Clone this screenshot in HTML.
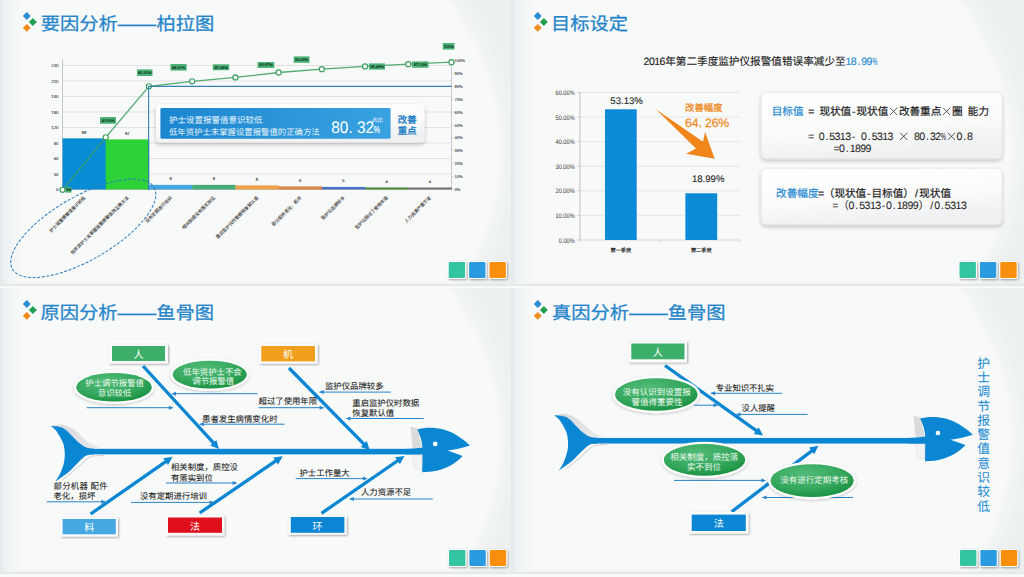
<!DOCTYPE html><html lang="zh-CN"><head><meta charset="utf-8"><style>
html,body{margin:0;padding:0;width:1024px;height:577px;overflow:hidden;background:#f8f9f9}
svg{display:block;font-family:'Liberation Sans', sans-serif;text-rendering:geometricPrecision}
</style></head><body>
<svg width="1024" height="577" viewBox="0 0 1024 577">
<defs>
<filter id="sh" x="-30%" y="-30%" width="160%" height="160%"><feGaussianBlur in="SourceAlpha" stdDeviation="1.2"/><feOffset dx="0.5" dy="1" result="b"/><feComponentTransfer><feFuncA type="linear" slope="0.35"/></feComponentTransfer><feMerge><feMergeNode/><feMergeNode in="SourceGraphic"/></feMerge></filter>
<filter id="sh2" x="-20%" y="-30%" width="140%" height="160%"><feGaussianBlur in="SourceAlpha" stdDeviation="2"/><feOffset dx="0" dy="1.5" result="b"/><feComponentTransfer><feFuncA type="linear" slope="0.25"/></feComponentTransfer><feMerge><feMergeNode/><feMergeNode in="SourceGraphic"/></feMerge></filter>
<filter id="bl8" x="-20%" y="-20%" width="140%" height="140%"><feGaussianBlur stdDeviation="6"/></filter>
<filter id="bl05" x="-50%" y="-50%" width="200%" height="200%"><feGaussianBlur stdDeviation="0.5"/></filter>
<linearGradient id="gsh" x1="0" y1="0" x2="1" y2="1"><stop offset="0" stop-color="#d6d8da"/><stop offset="1" stop-color="#e8e9ea"/></linearGradient>
<filter id="bl3" x="-20%" y="-20%" width="140%" height="140%"><feGaussianBlur stdDeviation="1.5"/></filter>
<filter id="bl1" x="-50%" y="-50%" width="200%" height="200%"><feGaussianBlur stdDeviation="0.8"/></filter>
<linearGradient id="gbox" x1="0" y1="0" x2="0.3" y2="1"><stop offset="0" stop-color="#ffffff"/><stop offset="0.6" stop-color="#fbfbfc"/><stop offset="1" stop-color="#eff0f1"/></linearGradient>
<linearGradient id="gleft" x1="0" y1="0" x2="1" y2="0"><stop offset="0" stop-color="#e9eef0" stop-opacity="0.9"/><stop offset="0.5" stop-color="#eef2f3" stop-opacity="0.5"/><stop offset="1" stop-color="#f8f9f9" stop-opacity="0"/></linearGradient>
<linearGradient id="gblue" x1="0" y1="0" x2="1" y2="0"><stop offset="0" stop-color="#1a86d0"/><stop offset="1" stop-color="#3aa2e0"/></linearGradient>
<radialGradient id="gell" cx="0.4" cy="0.3" r="0.75"><stop offset="0" stop-color="#52bb78"/><stop offset="0.6" stop-color="#35a85e"/><stop offset="1" stop-color="#16903f"/></radialGradient>
<filter id="sh3" x="-30%" y="-40%" width="160%" height="180%"><feGaussianBlur in="SourceAlpha" stdDeviation="1.8"/><feOffset dx="0" dy="0.8"/><feComponentTransfer><feFuncA type="linear" slope="0.22"/></feComponentTransfer><feMerge><feMergeNode/><feMergeNode in="SourceGraphic"/></feMerge></filter>
</defs>

<rect x="0" y="0" width="1024" height="577" fill="#f8f9f9"/>
<rect x="0" y="0" width="513" height="283.6" fill="#edf0f1"/>
<clipPath id="c0_0"><rect x="0" y="0" width="513" height="283.6"/></clipPath>
<g clip-path="url(#c0_0)">
<ellipse cx="101" cy="150" rx="410" ry="315" fill="#f3f5f5" filter="url(#bl8)"/>
<ellipse cx="101" cy="150" rx="400" ry="304" fill="#f8f9f9" filter="url(#bl3)"/>
<rect x="2" y="0" width="24" height="283.6" fill="url(#gleft)"/>
</g>
<rect x="511" y="0" width="513" height="283.6" fill="#edf0f1"/>
<clipPath id="c511_0"><rect x="511" y="0" width="513" height="283.6"/></clipPath>
<g clip-path="url(#c511_0)">
<ellipse cx="612" cy="150" rx="410" ry="315" fill="#f3f5f5" filter="url(#bl8)"/>
<ellipse cx="612" cy="150" rx="400" ry="304" fill="#f8f9f9" filter="url(#bl3)"/>
<rect x="513" y="0" width="24" height="283.6" fill="url(#gleft)"/>
</g>
<rect x="0" y="288" width="513" height="283.6" fill="#edf0f1"/>
<clipPath id="c0_288"><rect x="0" y="288" width="513" height="283.6"/></clipPath>
<g clip-path="url(#c0_288)">
<ellipse cx="101" cy="438" rx="410" ry="315" fill="#f3f5f5" filter="url(#bl8)"/>
<ellipse cx="101" cy="438" rx="400" ry="304" fill="#f8f9f9" filter="url(#bl3)"/>
<rect x="2" y="288" width="24" height="283.6" fill="url(#gleft)"/>
</g>
<rect x="511" y="288" width="513" height="283.6" fill="#edf0f1"/>
<clipPath id="c511_288"><rect x="511" y="288" width="513" height="283.6"/></clipPath>
<g clip-path="url(#c511_288)">
<ellipse cx="612" cy="438" rx="410" ry="315" fill="#f3f5f5" filter="url(#bl8)"/>
<ellipse cx="612" cy="438" rx="400" ry="304" fill="#f8f9f9" filter="url(#bl3)"/>
<rect x="513" y="288" width="24" height="283.6" fill="url(#gleft)"/>
</g>
<rect x="0" y="283.6" width="513" height="2.4" fill="#e6e9ea"/>
<rect x="0" y="0" width="2" height="286" fill="#e6e9eb"/>
<rect x="511" y="283.6" width="513" height="2.4" fill="#e6e9ea"/>
<rect x="511" y="0" width="2" height="286" fill="#e6e9eb"/>
<rect x="0" y="571.6" width="513" height="2.4" fill="#e6e9ea"/>
<rect x="0" y="288" width="2" height="286" fill="#e6e9eb"/>
<rect x="511" y="571.6" width="513" height="2.4" fill="#e6e9ea"/>
<rect x="511" y="288" width="2" height="286" fill="#e6e9eb"/>
<path d="M26.76 12.08L30.71 16.03L26.76 19.98L22.81 16.03Z" fill="#2a8dd4"/>
<path d="M32.86 18.03L36.81 21.98L32.86 25.93L28.91 21.98Z" fill="#22a050"/>
<path d="M26.76 23.88L30.71 27.83L26.76 31.78L22.81 27.83Z" fill="#f08c1e"/>
<text transform="translate(40.7 30.3) scale(1 0.93)" font-size="19.3" fill="#2585c9" stroke="#2585c9" stroke-width="0.3">要因分析——柏拉图</text>
<line x1="62.5" y1="174.00" x2="451.5" y2="174.00" stroke="#d9d9d9" stroke-width="0.7"/>
<line x1="62.5" y1="158.50" x2="451.5" y2="158.50" stroke="#d9d9d9" stroke-width="0.7"/>
<line x1="62.5" y1="143.00" x2="451.5" y2="143.00" stroke="#d9d9d9" stroke-width="0.7"/>
<line x1="62.5" y1="127.50" x2="451.5" y2="127.50" stroke="#d9d9d9" stroke-width="0.7"/>
<line x1="62.5" y1="112.00" x2="451.5" y2="112.00" stroke="#d9d9d9" stroke-width="0.7"/>
<line x1="62.5" y1="96.50" x2="451.5" y2="96.50" stroke="#d9d9d9" stroke-width="0.7"/>
<line x1="62.5" y1="81.00" x2="451.5" y2="81.00" stroke="#d9d9d9" stroke-width="0.7"/>
<line x1="62.5" y1="65.50" x2="451.5" y2="65.50" stroke="#d9d9d9" stroke-width="0.7"/>
<text x="58.5" y="191.00" font-size="4.3" fill="#333" text-anchor="end" stroke="#333" stroke-width="0.08" >0</text>
<text x="58.5" y="175.50" font-size="4.3" fill="#333" text-anchor="end" stroke="#333" stroke-width="0.08" >30</text>
<text x="58.5" y="160.00" font-size="4.3" fill="#333" text-anchor="end" stroke="#333" stroke-width="0.08" >60</text>
<text x="58.5" y="144.50" font-size="4.3" fill="#333" text-anchor="end" stroke="#333" stroke-width="0.08" >90</text>
<text x="58.5" y="129.00" font-size="4.3" fill="#333" text-anchor="end" stroke="#333" stroke-width="0.08" >120</text>
<text x="58.5" y="113.50" font-size="4.3" fill="#333" text-anchor="end" stroke="#333" stroke-width="0.08" >150</text>
<text x="58.5" y="98.00" font-size="4.3" fill="#333" text-anchor="end" stroke="#333" stroke-width="0.08" >180</text>
<text x="58.5" y="82.50" font-size="4.3" fill="#333" text-anchor="end" stroke="#333" stroke-width="0.08" >210</text>
<text x="58.5" y="67.00" font-size="4.3" fill="#333" text-anchor="end" stroke="#333" stroke-width="0.08" >240</text>
<text x="454.5" y="191.00" font-size="4.1" fill="#333" text-anchor="start" stroke="#333" stroke-width="0.08" >0%</text>
<line x1="451.5" y1="189.50" x2="453.0" y2="189.50" stroke="#999" stroke-width="0.5"/>
<text x="454.5" y="178.10" font-size="4.1" fill="#333" text-anchor="start" stroke="#333" stroke-width="0.08" >10%</text>
<line x1="451.5" y1="176.60" x2="453.0" y2="176.60" stroke="#999" stroke-width="0.5"/>
<text x="454.5" y="165.20" font-size="4.1" fill="#333" text-anchor="start" stroke="#333" stroke-width="0.08" >20%</text>
<line x1="451.5" y1="163.70" x2="453.0" y2="163.70" stroke="#999" stroke-width="0.5"/>
<text x="454.5" y="152.30" font-size="4.1" fill="#333" text-anchor="start" stroke="#333" stroke-width="0.08" >30%</text>
<line x1="451.5" y1="150.80" x2="453.0" y2="150.80" stroke="#999" stroke-width="0.5"/>
<text x="454.5" y="139.40" font-size="4.1" fill="#333" text-anchor="start" stroke="#333" stroke-width="0.08" >40%</text>
<line x1="451.5" y1="137.90" x2="453.0" y2="137.90" stroke="#999" stroke-width="0.5"/>
<text x="454.5" y="126.50" font-size="4.1" fill="#333" text-anchor="start" stroke="#333" stroke-width="0.08" >50%</text>
<line x1="451.5" y1="125.00" x2="453.0" y2="125.00" stroke="#999" stroke-width="0.5"/>
<text x="454.5" y="113.60" font-size="4.1" fill="#333" text-anchor="start" stroke="#333" stroke-width="0.08" >60%</text>
<line x1="451.5" y1="112.10" x2="453.0" y2="112.10" stroke="#999" stroke-width="0.5"/>
<text x="454.5" y="100.70" font-size="4.1" fill="#333" text-anchor="start" stroke="#333" stroke-width="0.08" >70%</text>
<line x1="451.5" y1="99.20" x2="453.0" y2="99.20" stroke="#999" stroke-width="0.5"/>
<text x="454.5" y="87.80" font-size="4.1" fill="#333" text-anchor="start" stroke="#333" stroke-width="0.08" >80%</text>
<line x1="451.5" y1="86.30" x2="453.0" y2="86.30" stroke="#999" stroke-width="0.5"/>
<text x="454.5" y="74.90" font-size="4.1" fill="#333" text-anchor="start" stroke="#333" stroke-width="0.08" >90%</text>
<line x1="451.5" y1="73.40" x2="453.0" y2="73.40" stroke="#999" stroke-width="0.5"/>
<text x="454.5" y="62.00" font-size="4.1" fill="#333" text-anchor="start" stroke="#333" stroke-width="0.08" >100%</text>
<line x1="451.5" y1="60.50" x2="453.0" y2="60.50" stroke="#999" stroke-width="0.5"/>
<line x1="62.5" y1="59" x2="62.5" y2="189.5" stroke="#b0b0b0" stroke-width="0.7"/>
<line x1="451.5" y1="62" x2="451.5" y2="189.5" stroke="#b8b8b8" stroke-width="0.7"/>
<line x1="62.5" y1="189.5" x2="451.5" y2="189.5" stroke="#aaa" stroke-width="0.7"/>
<rect x="62.50" y="138.35" width="43.52" height="51.15" fill="#088cd4"/>
<text x="84.11" y="134.15" font-size="4.1" fill="#333" text-anchor="middle" stroke="#333" stroke-width="0.12" >99</text>
<rect x="105.72" y="139.38" width="43.52" height="50.12" fill="#2cd238"/>
<text x="127.33" y="135.18" font-size="4.1" fill="#333" text-anchor="middle" stroke="#333" stroke-width="0.12" >97</text>
<rect x="148.94" y="184.85" width="43.52" height="4.65" fill="#45a5e0"/>
<text x="170.56" y="180.35" font-size="4.1" fill="#333" text-anchor="middle" stroke="#333" stroke-width="0.12" >9</text>
<rect x="192.17" y="184.85" width="43.52" height="4.65" fill="#46ad78"/>
<text x="213.78" y="180.35" font-size="4.1" fill="#333" text-anchor="middle" stroke="#333" stroke-width="0.12" >9</text>
<rect x="235.39" y="185.37" width="43.52" height="4.13" fill="#eba24c"/>
<text x="257.00" y="180.87" font-size="4.1" fill="#333" text-anchor="middle" stroke="#333" stroke-width="0.12" >8</text>
<rect x="278.61" y="186.40" width="43.52" height="3.10" fill="#dc8544"/>
<text x="300.22" y="181.90" font-size="4.1" fill="#333" text-anchor="middle" stroke="#333" stroke-width="0.12" >6</text>
<rect x="321.83" y="186.92" width="43.52" height="2.58" fill="#4a72c4"/>
<text x="343.44" y="182.42" font-size="4.1" fill="#333" text-anchor="middle" stroke="#333" stroke-width="0.12" >5</text>
<rect x="365.06" y="187.43" width="43.52" height="2.07" fill="#4b8b3c"/>
<text x="386.67" y="182.93" font-size="4.1" fill="#333" text-anchor="middle" stroke="#333" stroke-width="0.12" >4</text>
<rect x="408.28" y="187.43" width="43.52" height="2.07" fill="#777777"/>
<text x="429.89" y="182.93" font-size="4.1" fill="#333" text-anchor="middle" stroke="#333" stroke-width="0.12" >4</text>
<path d="M62.50 189.80L105.72 137.30L148.94 86.30L192.17 81.30L235.39 77.40L278.61 72.50L321.83 69.20L365.06 66.40L408.28 64.20L451.50 62.20" fill="none" stroke="#3b9f5f" stroke-opacity="0.88" stroke-width="1.3"/>
<circle cx="62.50" cy="189.80" r="2.55" fill="#fff" stroke="#3b9f5f" stroke-width="1.2"/>
<circle cx="105.72" cy="137.30" r="2.55" fill="#fff" stroke="#3b9f5f" stroke-width="1.2"/>
<circle cx="148.94" cy="86.30" r="2.55" fill="#fff" stroke="#3b9f5f" stroke-width="1.2"/>
<circle cx="192.17" cy="81.30" r="2.55" fill="#fff" stroke="#3b9f5f" stroke-width="1.2"/>
<circle cx="235.39" cy="77.40" r="2.55" fill="#fff" stroke="#3b9f5f" stroke-width="1.2"/>
<circle cx="278.61" cy="72.50" r="2.55" fill="#fff" stroke="#3b9f5f" stroke-width="1.2"/>
<circle cx="321.83" cy="69.20" r="2.55" fill="#fff" stroke="#3b9f5f" stroke-width="1.2"/>
<circle cx="365.06" cy="66.40" r="2.55" fill="#fff" stroke="#3b9f5f" stroke-width="1.2"/>
<circle cx="408.28" cy="64.20" r="2.55" fill="#fff" stroke="#3b9f5f" stroke-width="1.2"/>
<circle cx="451.50" cy="62.20" r="2.55" fill="#fff" stroke="#3b9f5f" stroke-width="1.2"/>
<path d="M148.6 190V86.4H451.5" fill="none" stroke="#3580b4" stroke-width="1.1"/>
<rect x="65.5" y="187.2" width="6.00" height="5.40" fill="#4ab274"/>
<text x="68.50" y="191.35" font-size="3.9" fill="#14301c" text-anchor="middle" stroke="#14301c" stroke-width="0.15" >0%</text>
<rect x="100" y="117" width="16.00" height="6.80" fill="#4ab274"/>
<text x="108.00" y="121.85" font-size="3.9" fill="#14301c" text-anchor="middle" stroke="#14301c" stroke-width="0.15" >40.93%</text>
<rect x="137" y="69.4" width="15.50" height="6.60" fill="#4ab274"/>
<text x="144.75" y="74.15" font-size="3.9" fill="#14301c" text-anchor="middle" stroke="#14301c" stroke-width="0.15" >80.32%</text>
<rect x="170.5" y="64" width="16.10" height="6.60" fill="#4ab274"/>
<text x="178.55" y="68.75" font-size="3.9" fill="#14301c" text-anchor="middle" stroke="#14301c" stroke-width="0.15" >84.01%</text>
<rect x="212.8" y="64.3" width="16.40" height="5.90" fill="#4ab274"/>
<text x="221.00" y="68.70" font-size="3.9" fill="#14301c" text-anchor="middle" stroke="#14301c" stroke-width="0.15" >87.38%</text>
<rect x="257.6" y="62" width="16.70" height="6.00" fill="#4ab274"/>
<text x="265.95" y="66.45" font-size="3.9" fill="#14301c" text-anchor="middle" stroke="#14301c" stroke-width="0.15" >90.97%</text>
<rect x="293.7" y="56.4" width="15.80" height="6.40" fill="#4ab274"/>
<text x="301.60" y="61.05" font-size="3.9" fill="#14301c" text-anchor="middle" stroke="#14301c" stroke-width="0.15" >93.43%</text>
<rect x="369" y="63.4" width="16.00" height="6.20" fill="#4ab274"/>
<text x="377.00" y="67.95" font-size="3.9" fill="#14301c" text-anchor="middle" stroke="#14301c" stroke-width="0.15" >95.48%</text>
<rect x="412" y="61.4" width="16.50" height="6.40" fill="#4ab274"/>
<text x="420.25" y="66.05" font-size="3.9" fill="#14301c" text-anchor="middle" stroke="#14301c" stroke-width="0.15" >97.13%</text>
<rect x="442.8" y="43" width="11.70" height="6.60" fill="#4ab274"/>
<text x="448.65" y="47.75" font-size="3.9" fill="#14301c" text-anchor="middle" stroke="#14301c" stroke-width="0.15" >100%</text>
<text transform="translate(83.61,196) rotate(-45)" x="0" y="0" font-size="4.45" fill="#2a2a2a" stroke="#2a2a2a" stroke-width="0.06" text-anchor="end" dy="3">护士设置报警值意识较低</text>
<text transform="translate(126.83,196) rotate(-45)" x="0" y="0" font-size="4.45" fill="#2a2a2a" stroke="#2a2a2a" stroke-width="0.06" text-anchor="end" dy="3">低年资护士未掌握设置报警值的正确方法</text>
<text transform="translate(170.06,196) rotate(-45)" x="0" y="0" font-size="4.45" fill="#2a2a2a" stroke="#2a2a2a" stroke-width="0.06" text-anchor="end" dy="3">没有定期进行培训</text>
<text transform="translate(213.28,196) rotate(-45)" x="0" y="0" font-size="4.45" fill="#2a2a2a" stroke="#2a2a2a" stroke-width="0.06" text-anchor="end" dy="3">相关制度没有落实到位</text>
<text transform="translate(256.50,196) rotate(-45)" x="0" y="0" font-size="4.45" fill="#2a2a2a" stroke="#2a2a2a" stroke-width="0.06" text-anchor="end" dy="3">重启监护仪时数据恢复默认值</text>
<text transform="translate(299.72,196) rotate(-45)" x="0" y="0" font-size="4.45" fill="#2a2a2a" stroke="#2a2a2a" stroke-width="0.06" text-anchor="end" dy="3">部分配件老化、损坏</text>
<text transform="translate(342.94,196) rotate(-45)" x="0" y="0" font-size="4.45" fill="#2a2a2a" stroke="#2a2a2a" stroke-width="0.06" text-anchor="end" dy="3">监护仪品牌较多</text>
<text transform="translate(386.17,196) rotate(-45)" x="0" y="0" font-size="4.45" fill="#2a2a2a" stroke="#2a2a2a" stroke-width="0.06" text-anchor="end" dy="3">监护仪超过了使用年限</text>
<text transform="translate(429.39,196) rotate(-45)" x="0" y="0" font-size="4.45" fill="#2a2a2a" stroke="#2a2a2a" stroke-width="0.06" text-anchor="end" dy="3">人力资源严重不足</text>
<ellipse cx="83.3" cy="228.3" rx="81.7" ry="31.8" transform="rotate(-30 83.3 228.3)" fill="none" stroke="#2a7dbf" stroke-width="1.0" stroke-dasharray="3 1.6"/>
<rect x="156" y="104.2" width="268.4" height="38.2" rx="4" fill="url(#gbox)" filter="url(#sh2)"/>
<rect x="160.4" y="107.9" width="230.2" height="30.8" rx="1.5" fill="url(#gblue)"/>
<text x="169" y="123" font-size="8.5" fill="#eaf4fc" text-anchor="start" >护士设置报警值意识较低</text>
<text x="169" y="134.6" font-size="8.4" fill="#eaf4fc" text-anchor="start" >低年资护士未掌握设置报警值的正确方法</text>
<text x="331.3" y="132.9" font-size="16.8" fill="#fff" text-anchor="start" textLength="42.8" lengthAdjust="spacingAndGlyphs">80. 32</text>
<text x="371.5" y="121.6" font-size="5.8" fill="#fff" text-anchor="start" >占比</text>
<text x="373.8" y="133.1" font-size="10" fill="#fff" text-anchor="start" stroke="#fff" stroke-width="0.15" textLength="6.2" lengthAdjust="spacingAndGlyphs">%</text>
<text x="397.8" y="122.6" font-size="9.4" fill="#1a7cc6" text-anchor="start" stroke="#1a7cc6" stroke-width="0.35">改善</text>
<text x="397.8" y="134.4" font-size="9.4" fill="#1a7cc6" text-anchor="start" stroke="#1a7cc6" stroke-width="0.35">重点</text>
<path d="M537.76 12.08L541.71 16.03L537.76 19.98L533.81 16.03Z" fill="#2a8dd4"/>
<path d="M543.86 18.03L547.81 21.98L543.86 25.93L539.91 21.98Z" fill="#22a050"/>
<path d="M537.76 23.88L541.71 27.83L537.76 31.78L533.81 27.83Z" fill="#f08c1e"/>
<text transform="translate(550.9 30.3) scale(1 0.93)" font-size="19.3" fill="#2585c9" stroke="#2585c9" stroke-width="0.3">目标设定</text>
<text x="872.43" y="64.7" font-size="10.6" fill="#1e88d0" stroke="#1e88d0" stroke-width="0.12" textLength="4.89" lengthAdjust="spacingAndGlyphs">%</text>
<text x="646.55 651.86 657.17 662.48 670.45 681.07 691.69 702.31 712.93 723.55 734.17 744.79 755.41 766.03 776.65 787.27 797.89 808.51 819.13 829.75 840.37" y="64.7" font-size="10.6" fill="#222" text-anchor="middle" stroke="#222" stroke-width="0.12">2016年第二季度监护仪报警值错误率减少至</text>
<text x="848.33 853.64 858.95 864.26 869.57" y="64.7" font-size="10.6" fill="#1e88d0" text-anchor="middle" stroke="#1e88d0" stroke-width="0.12">18.99</text>
<text x="558.70" y="242.50" font-size="6.6" fill="#333" textLength="16" lengthAdjust="spacingAndGlyphs">0.00%</text>
<line x1="577.5" y1="240.00" x2="580" y2="240.00" stroke="#aaa" stroke-width="0.6"/>
<line x1="580" y1="215.40" x2="740" y2="215.40" stroke="#e0e0e0" stroke-width="0.7"/>
<text x="555.50" y="217.90" font-size="6.6" fill="#333" textLength="19.2" lengthAdjust="spacingAndGlyphs">10.00%</text>
<line x1="577.5" y1="215.40" x2="580" y2="215.40" stroke="#aaa" stroke-width="0.6"/>
<line x1="580" y1="190.80" x2="740" y2="190.80" stroke="#e0e0e0" stroke-width="0.7"/>
<text x="555.50" y="193.30" font-size="6.6" fill="#333" textLength="19.2" lengthAdjust="spacingAndGlyphs">20.00%</text>
<line x1="577.5" y1="190.80" x2="580" y2="190.80" stroke="#aaa" stroke-width="0.6"/>
<line x1="580" y1="166.20" x2="740" y2="166.20" stroke="#e0e0e0" stroke-width="0.7"/>
<text x="555.50" y="168.70" font-size="6.6" fill="#333" textLength="19.2" lengthAdjust="spacingAndGlyphs">30.00%</text>
<line x1="577.5" y1="166.20" x2="580" y2="166.20" stroke="#aaa" stroke-width="0.6"/>
<line x1="580" y1="141.60" x2="740" y2="141.60" stroke="#e0e0e0" stroke-width="0.7"/>
<text x="555.50" y="144.10" font-size="6.6" fill="#333" textLength="19.2" lengthAdjust="spacingAndGlyphs">40.00%</text>
<line x1="577.5" y1="141.60" x2="580" y2="141.60" stroke="#aaa" stroke-width="0.6"/>
<line x1="580" y1="117.00" x2="740" y2="117.00" stroke="#e0e0e0" stroke-width="0.7"/>
<text x="555.50" y="119.50" font-size="6.6" fill="#333" textLength="19.2" lengthAdjust="spacingAndGlyphs">50.00%</text>
<line x1="577.5" y1="117.00" x2="580" y2="117.00" stroke="#aaa" stroke-width="0.6"/>
<line x1="580" y1="92.40" x2="740" y2="92.40" stroke="#e0e0e0" stroke-width="0.7"/>
<text x="555.50" y="94.90" font-size="6.6" fill="#333" textLength="19.2" lengthAdjust="spacingAndGlyphs">60.00%</text>
<line x1="577.5" y1="92.40" x2="580" y2="92.40" stroke="#aaa" stroke-width="0.6"/>
<line x1="580" y1="92" x2="580" y2="240" stroke="#aaa" stroke-width="0.7"/>
<path d="M580 240H740M580 240v2.5M660 240v2.5M740 240v2.5" stroke="#c8c8c8" stroke-width="0.7" fill="none"/>
<rect x="605" y="109.30" width="31.7" height="130.70" fill="#0b8ad6"/>
<rect x="685.4" y="193.28" width="31.8" height="46.72" fill="#0b8ad6"/>
<text x="626.6" y="103.8" font-size="9.6" fill="#222" text-anchor="middle" stroke="#222" stroke-width="0.1" >53.13%</text>
<text x="708.2" y="182.2" font-size="9.6" fill="#222" text-anchor="middle" stroke="#222" stroke-width="0.1" >18.99%</text>
<text x="620.8" y="251.9" font-size="5.2" fill="#222" text-anchor="middle" stroke="#222" stroke-width="0.15" >第一季度</text>
<text x="701.3" y="251.9" font-size="5.2" fill="#222" text-anchor="middle" stroke="#222" stroke-width="0.15" >第二季度</text>
<path d="M655.9 109.3L703 141.7L705 132L714.7 158.7L686.2 153.8L696 148.4Z" fill="#f0861a"/>
<text x="685" y="111" font-size="9.4" fill="#ef8a1c" text-anchor="start" stroke="#ef8a1c" stroke-width="0.3" textLength="37.6" lengthAdjust="spacing">改善幅度</text>
<text x="685" y="126.8" font-size="12.3" fill="#ef8a1c" text-anchor="start" stroke="#ef8a1c" stroke-width="0.25" textLength="44.3" lengthAdjust="spacing">64. 26%</text>
<rect x="761.4" y="92.7" width="240.6" height="65.9" rx="5" fill="url(#gbox)" stroke="#e2e4e6" stroke-width="0.6" filter="url(#sh2)"/>
<rect x="761.4" y="168.6" width="240.4" height="56" rx="5" fill="url(#gbox)" stroke="#e2e4e6" stroke-width="0.6" filter="url(#sh2)"/>
<path d="M890.00 107.78L897.20 114.99M897.20 107.78L890.00 114.99" stroke="#222" stroke-width="0.75" fill="none"/>
<path d="M943.00 107.78L950.20 114.99M950.20 107.78L943.00 114.99" stroke="#222" stroke-width="0.75" fill="none"/>
<text x="777.00 787.60 798.20" y="115.2" font-size="10.6" fill="#1e88d0" text-anchor="middle" stroke="#1e88d0" stroke-width="0.2">目标值</text>
<text x="811.45 824.70 835.30 845.90 853.85 861.80 872.40 883.00 904.20 914.80 925.40 936.00 957.20 973.10 983.70" y="115.2" font-size="10.6" fill="#222" text-anchor="middle" stroke="#222" stroke-width="0.2">=现状值-现状值改善重点圈能力</text>
<path d="M900.15 132.78L907.35 139.99M907.35 132.78L900.15 139.99" stroke="#222" stroke-width="0.75" fill="none"/>
<text x="941.05" y="140.2" font-size="10.6" fill="#222" stroke="#222" stroke-width="0.05" textLength="4.88" lengthAdjust="spacingAndGlyphs">%</text>
<path d="M947.85 132.78L955.05 139.99M955.05 132.78L947.85 139.99" stroke="#222" stroke-width="0.75" fill="none"/>
<text x="811.00 821.60 826.90 832.20 837.50 842.80 848.10 853.40 864.00 869.30 874.60 879.90 885.20 890.50 917.00 922.30 927.60 932.90 938.20 959.40 964.70 970.00" y="140.2" font-size="10.6" fill="#222" text-anchor="middle" stroke="#222" stroke-width="0.05">=0.5313-0.531380.320.8</text>
<text x="836.70 842.00 847.30 852.60 857.90 863.20 868.50" y="152.4" font-size="10.6" fill="#222" text-anchor="middle" stroke="#222" stroke-width="0.05">=0.1899</text>
<text x="781.40 792.00 802.60 813.20" y="197.3" font-size="10.6" fill="#1e88d0" text-anchor="middle" stroke="#1e88d0" stroke-width="0.2">改善幅度</text>
<text x="821.15 829.10 839.70 850.30 860.90 868.85 876.80 887.40 898.00 908.60 916.55 924.50 935.10 945.70" y="197.3" font-size="10.6" fill="#222" text-anchor="middle" stroke="#222" stroke-width="0.2">=（现状值-目标值）/现状值</text>
<text x="835.42 843.45 851.48 856.83 862.18 867.53 872.88 878.23 883.58 888.93 894.28 899.63 904.98 910.33 915.68 923.70 931.73 937.08 942.43 947.78 953.13 958.48 963.83" y="209.4" font-size="10.6" fill="#222" text-anchor="middle" stroke="#222" stroke-width="0.05">=（0.5313-0.1899）/0.5313</text>
<path d="M26.76 300.08L30.71 304.03L26.76 307.98L22.81 304.03Z" fill="#2a8dd4"/>
<path d="M32.86 306.03L36.81 309.98L32.86 313.93L28.91 309.98Z" fill="#22a050"/>
<path d="M26.76 311.88L30.71 315.83L26.76 319.78L22.81 315.83Z" fill="#f08c1e"/>
<text transform="translate(40.5 318.5) scale(1 0.93)" font-size="19.3" fill="#2585c9" stroke="#2585c9" stroke-width="0.3">原因分析——鱼骨图</text>
<rect x="88" y="448.8" width="336" height="5.6" fill="#0a86d2"/>
<g transform="translate(0 0)">
<path d="M62.50 424.60C64.25 425.33 69.83 427.07 73.00 429.00C76.17 430.93 79.00 433.98 81.50 436.20C84.00 438.42 85.92 440.73 88.00 442.30C90.08 443.87 92.25 444.73 94.00 445.60C95.75 446.47 97.17 447.05 98.50 447.50C99.83 447.95 101.42 448.17 102.00 448.30L94 448.5C93.47 448.48 92.15 448.59 90.80 448.40C89.45 448.21 87.92 448.33 85.90 447.35C83.88 446.38 81.12 444.57 78.70 442.55C76.28 440.53 74.03 437.68 71.40 435.25C68.77 432.82 66.33 429.52 62.90 427.95C59.47 426.38 52.82 426.20 50.80 425.85Z" fill="url(#gsh)" filter="url(#bl05)"/>
<path d="M94.00 454.60C93.47 454.62 92.15 454.49 90.80 454.70C89.45 454.91 87.92 454.64 85.90 455.85C83.88 457.06 81.52 459.32 78.70 461.95C75.88 464.58 72.85 468.42 69.00 471.65C65.15 474.88 57.83 479.73 55.60 481.35L63 479.5C64.40 478.39 68.38 475.38 71.40 472.85C74.42 470.33 78.07 466.98 81.10 464.35C84.13 461.72 87.12 458.48 89.60 457.05C92.08 455.62 93.60 456.11 96.00 455.80C98.40 455.49 102.67 455.30 104.00 455.20Z" fill="#fdfdfd"/>
<path d="M104.00 455.20C102.67 455.30 98.40 455.49 96.00 455.80C93.60 456.11 92.08 455.62 89.60 457.05C87.12 458.48 84.13 461.72 81.10 464.35C78.07 466.98 74.42 470.33 71.40 472.85C68.38 475.38 64.40 478.39 63.00 479.50" fill="none" stroke="#d5d7d9" stroke-width="1.2" filter="url(#bl05)"/>
<path d="M50.80 425.85C52.82 426.20 59.47 426.38 62.90 427.95C66.33 429.52 68.77 432.82 71.40 435.25C74.03 437.68 76.28 440.53 78.70 442.55C81.12 444.57 83.88 446.38 85.90 447.35C87.92 448.33 89.45 448.21 90.80 448.40C92.15 448.59 93.47 448.48 94.00 448.50L94 454.6C93.47 454.62 92.15 454.49 90.80 454.70C89.45 454.91 87.92 454.64 85.90 455.85C83.88 457.06 81.52 459.32 78.70 461.95C75.88 464.58 72.85 468.42 69.00 471.65C65.15 474.88 57.83 479.73 55.60 481.35C56.42 479.93 59.08 476.08 60.50 472.85C61.92 469.62 63.40 465.38 64.10 461.95C64.80 458.52 64.90 455.48 64.70 452.25C64.50 449.02 64.22 445.98 62.90 442.55C61.58 439.12 58.82 434.43 56.80 431.65C54.78 428.87 51.80 426.82 50.80 425.85Z" fill="#0a86d2"/>
</g>
<g transform="translate(0 0) scale(1.0)">
<path d="M410.5 426.2 L417.8 428.6 L421.8 447.6 L412.8 448.2 Z" fill="#d9dbdc" filter="url(#bl05)"/>
<path d="M412.8 455.2 L421.8 455.2 L421.8 469.5 L414.5 468.5 Z" fill="#f2f3f4" stroke="#dadcdd" stroke-width="0.6" filter="url(#bl05)"/>
<path d="M417.3 429.4 C428 426.3 445 427.5 457 435.6 C463 439.5 467 442.5 470 445.5 C462 448.2 454 449.6 447.6 450.5 L462.7 455.9 C456 463.5 445 469.5 432 471.5 L422.2 472.2 L422.5 454.3 L405 454.4 L405 448.9 Q414 448.7 422.5 447.4 Q421.5 437 417.3 429.4Z" fill="#0a86d2"/>
<circle cx="435.2" cy="443.9" r="2.3" fill="#fff"/>
</g>
<line x1="143" y1="366" x2="213.94" y2="443.47" stroke="#0a86d2" stroke-width="3.3"/>
<path d="M219 449L210.16 445.57L216.36 439.89Z" fill="#0a86d2"/>
<line x1="289" y1="368" x2="364.44" y2="444.65" stroke="#0a86d2" stroke-width="3.3"/>
<path d="M369.7 450L360.74 446.89L366.73 441.00Z" fill="#0a86d2"/>
<line x1="90.6" y1="514" x2="166.45" y2="461.09" stroke="#0a86d2" stroke-width="3.3"/>
<path d="M172.6 456.8L168.03 465.11L163.23 458.22Z" fill="#0a86d2"/>
<line x1="199.6" y1="513" x2="276.51" y2="460.43" stroke="#0a86d2" stroke-width="3.3"/>
<path d="M282.7 456.2L278.05 464.46L273.31 457.53Z" fill="#0a86d2"/>
<line x1="321.5" y1="513.3" x2="398.33" y2="460.26" stroke="#0a86d2" stroke-width="3.3"/>
<path d="M404.5 456L399.89 464.29L395.12 457.37Z" fill="#0a86d2"/>
<rect x="109" y="344.3" width="59.00" height="19.20" fill="#fbfbfb" filter="url(#sh)"/>
<rect x="112" y="346" width="53.00" height="15.00" fill="#3daf6a"/>
<text x="138.50" y="358.12" font-size="10.08" fill="#fff" text-anchor="middle" >人</text>
<rect x="259" y="344" width="58.60" height="19.70" fill="#fbfbfb" filter="url(#sh)"/>
<rect x="261.3" y="346" width="53.70" height="15.40" fill="#f29f1e"/>
<text x="288.15" y="358.32" font-size="10.08" fill="#fff" text-anchor="middle" >机</text>
<rect x="60.3" y="517.5" width="57.70" height="19.10" fill="#fbfbfb" filter="url(#sh)"/>
<rect x="62.6" y="519" width="53.20" height="15.30" fill="#46a8e2"/>
<text x="89.20" y="531.27" font-size="10.08" fill="#fff" text-anchor="middle" >料</text>
<rect x="165.9" y="515.2" width="58.40" height="20.30" fill="#fbfbfb" filter="url(#sh)"/>
<rect x="168" y="517.5" width="54.00" height="15.30" fill="#e0101c"/>
<text x="195.00" y="529.77" font-size="10.08" fill="#fff" text-anchor="middle" >法</text>
<rect x="288.3" y="515.6" width="58.30" height="19.20" fill="#fbfbfb" filter="url(#sh)"/>
<rect x="290.8" y="517" width="53.60" height="15.80" fill="#0a86d4"/>
<text x="317.60" y="529.52" font-size="10.08" fill="#fff" text-anchor="middle" >环</text>
<ellipse cx="114" cy="387.3" rx="40.4" ry="16.7" fill="#fbfcfb" filter="url(#sh3)"/>
<ellipse cx="114" cy="387.3" rx="37.8" ry="14.3" fill="url(#gell)"/>
<text x="114.6" y="386" font-size="8.4" fill="#eef8ee" text-anchor="middle" >护士调节报警值</text>
<text x="114.6" y="395.7" font-size="8.4" fill="#eef8ee" text-anchor="middle" >意识较低</text>
<ellipse cx="209.75" cy="374.6" rx="39.6" ry="16.3" fill="#fbfcfb" filter="url(#sh3)"/>
<ellipse cx="209.75" cy="374.6" rx="37" ry="13.9" fill="url(#gell)"/>
<text x="212.4" y="374.6" font-size="8.4" fill="#eef8ee" text-anchor="middle" >低年资护士不会</text>
<text x="213.3" y="384.3" font-size="8.4" fill="#eef8ee" text-anchor="middle" >调节报警值</text>
<line x1="172" y1="393.7" x2="257.6" y2="393.7" stroke="#2584cc" stroke-width="1.0"/>
<path d="M171.5 393.7L176 391.7L176 395.7Z" fill="#2584cc"/>
<line x1="86.7" y1="407.7" x2="172.8" y2="407.7" stroke="#2584cc" stroke-width="1.0"/>
<path d="M173.3 407.7L168.8 405.7L168.8 409.7Z" fill="#2584cc"/>
<line x1="258.6" y1="407.7" x2="323.6" y2="407.7" stroke="#2584cc" stroke-width="1.0"/>
<path d="M324.1 407.7L319.6 405.7L319.6 409.7Z" fill="#2584cc"/>
<line x1="199.8" y1="424.2" x2="284.5" y2="424.2" stroke="#2584cc" stroke-width="1.0"/>
<path d="M199.3 424.2L203.8 422.2L203.8 426.2Z" fill="#2584cc"/>
<line x1="319.7" y1="392.1" x2="390.8" y2="392.1" stroke="#2584cc" stroke-width="1.0"/>
<path d="M319.2 392.1L323.7 390.1L323.7 394.1Z" fill="#2584cc"/>
<line x1="346.4" y1="418.5" x2="423.6" y2="418.5" stroke="#2584cc" stroke-width="1.0"/>
<path d="M345.9 418.5L350.4 416.5L350.4 420.5Z" fill="#2584cc"/>
<line x1="166" y1="483" x2="236.6" y2="483" stroke="#2584cc" stroke-width="1.0"/>
<path d="M237.1 483L232.6 481L232.6 485Z" fill="#2584cc"/>
<line x1="131" y1="502.4" x2="213.7" y2="502.4" stroke="#2584cc" stroke-width="1.0"/>
<path d="M214.2 502.4L209.7 500.4L209.7 504.4Z" fill="#2584cc"/>
<line x1="46.8" y1="501.8" x2="105.2" y2="501.8" stroke="#2584cc" stroke-width="1.0"/>
<path d="M105.7 501.8L101.2 499.8L101.2 503.8Z" fill="#2584cc"/>
<line x1="295.7" y1="478.6" x2="367" y2="478.6" stroke="#2584cc" stroke-width="1.0"/>
<path d="M367.5 478.6L363 476.6L363 480.6Z" fill="#2584cc"/>
<line x1="349.8" y1="499" x2="432.8" y2="499" stroke="#2584cc" stroke-width="1.0"/>
<path d="M349.3 499L353.8 497L353.8 501Z" fill="#2584cc"/>
<text x="258.6" y="404.4" font-size="8.4" fill="#1a1a1a" text-anchor="start" stroke="#1a1a1a" stroke-width="0.07" textLength="58.5" lengthAdjust="spacing">超过了使用年限</text>
<text x="202" y="422.3" font-size="8.4" fill="#1a1a1a" text-anchor="start" stroke="#1a1a1a" stroke-width="0.07" textLength="75.5" lengthAdjust="spacing">患者发生病情变化时</text>
<text x="325" y="388.8" font-size="8.4" fill="#1a1a1a" text-anchor="start" stroke="#1a1a1a" stroke-width="0.07" textLength="58.5" lengthAdjust="spacing">监护仪品牌较多</text>
<text x="352.3" y="405.7" font-size="8.4" fill="#1a1a1a" text-anchor="start" stroke="#1a1a1a" stroke-width="0.07" textLength="66.8" lengthAdjust="spacing">重启监护仪时数据</text>
<text x="352.3" y="416.0" font-size="8.4" fill="#1a1a1a" text-anchor="start" stroke="#1a1a1a" stroke-width="0.07" >恢复默认值</text>
<text x="171" y="470.4" font-size="8.4" fill="#1a1a1a" text-anchor="start" stroke="#1a1a1a" stroke-width="0.07" >相关制度，质控没</text>
<text x="171" y="480.7" font-size="8.4" fill="#1a1a1a" text-anchor="start" stroke="#1a1a1a" stroke-width="0.07" >有落实到位</text>
<text x="140" y="499.2" font-size="8.4" fill="#1a1a1a" text-anchor="start" stroke="#1a1a1a" stroke-width="0.07" >没有定期进行培训</text>
<text x="53.6" y="489.0" font-size="8.4" fill="#1a1a1a" text-anchor="start" stroke="#1a1a1a" stroke-width="0.07" textLength="54" lengthAdjust="spacing">部分机器 配件</text>
<text x="53.6" y="499.2" font-size="8.4" fill="#1a1a1a" text-anchor="start" stroke="#1a1a1a" stroke-width="0.07" >老化，损坏</text>
<text x="299.4" y="476.2" font-size="8.4" fill="#1a1a1a" text-anchor="start" stroke="#1a1a1a" stroke-width="0.07" >护士工作量大</text>
<text x="361" y="495.4" font-size="8.4" fill="#1a1a1a" text-anchor="start" stroke="#1a1a1a" stroke-width="0.07" >人力资源不足</text>
<path d="M537.76 300.08L541.71 304.03L537.76 307.98L533.81 304.03Z" fill="#2a8dd4"/>
<path d="M543.86 306.03L547.81 309.98L543.86 313.93L539.91 309.98Z" fill="#22a050"/>
<path d="M537.76 311.88L541.71 315.83L537.76 319.78L533.81 315.83Z" fill="#f08c1e"/>
<text transform="translate(552.0 318.5) scale(1 0.93)" font-size="19.3" fill="#2585c9" stroke="#2585c9" stroke-width="0.3">真因分析——鱼骨图</text>
<rect x="590.80" y="437.95" width="336" height="5.6" fill="#0a86d2"/>
<g transform="translate(503.3 -10.85)">
<path d="M62.50 424.60C64.25 425.33 69.83 427.07 73.00 429.00C76.17 430.93 79.00 433.98 81.50 436.20C84.00 438.42 85.92 440.73 88.00 442.30C90.08 443.87 92.25 444.73 94.00 445.60C95.75 446.47 97.17 447.05 98.50 447.50C99.83 447.95 101.42 448.17 102.00 448.30L94 448.5C93.47 448.48 92.15 448.59 90.80 448.40C89.45 448.21 87.92 448.33 85.90 447.35C83.88 446.38 81.12 444.57 78.70 442.55C76.28 440.53 74.03 437.68 71.40 435.25C68.77 432.82 66.33 429.52 62.90 427.95C59.47 426.38 52.82 426.20 50.80 425.85Z" fill="url(#gsh)" filter="url(#bl05)"/>
<path d="M94.00 454.60C93.47 454.62 92.15 454.49 90.80 454.70C89.45 454.91 87.92 454.64 85.90 455.85C83.88 457.06 81.52 459.32 78.70 461.95C75.88 464.58 72.85 468.42 69.00 471.65C65.15 474.88 57.83 479.73 55.60 481.35L63 479.5C64.40 478.39 68.38 475.38 71.40 472.85C74.42 470.33 78.07 466.98 81.10 464.35C84.13 461.72 87.12 458.48 89.60 457.05C92.08 455.62 93.60 456.11 96.00 455.80C98.40 455.49 102.67 455.30 104.00 455.20Z" fill="#fdfdfd"/>
<path d="M104.00 455.20C102.67 455.30 98.40 455.49 96.00 455.80C93.60 456.11 92.08 455.62 89.60 457.05C87.12 458.48 84.13 461.72 81.10 464.35C78.07 466.98 74.42 470.33 71.40 472.85C68.38 475.38 64.40 478.39 63.00 479.50" fill="none" stroke="#d5d7d9" stroke-width="1.2" filter="url(#bl05)"/>
<path d="M50.80 425.85C52.82 426.20 59.47 426.38 62.90 427.95C66.33 429.52 68.77 432.82 71.40 435.25C74.03 437.68 76.28 440.53 78.70 442.55C81.12 444.57 83.88 446.38 85.90 447.35C87.92 448.33 89.45 448.21 90.80 448.40C92.15 448.59 93.47 448.48 94.00 448.50L94 454.6C93.47 454.62 92.15 454.49 90.80 454.70C89.45 454.91 87.92 454.64 85.90 455.85C83.88 457.06 81.52 459.32 78.70 461.95C75.88 464.58 72.85 468.42 69.00 471.65C65.15 474.88 57.83 479.73 55.60 481.35C56.42 479.93 59.08 476.08 60.50 472.85C61.92 469.62 63.40 465.38 64.10 461.95C64.80 458.52 64.90 455.48 64.70 452.25C64.50 449.02 64.22 445.98 62.90 442.55C61.58 439.12 58.82 434.43 56.80 431.65C54.78 428.87 51.80 426.82 50.80 425.85Z" fill="#0a86d2"/>
</g>
<g transform="translate(502.8 -10.85) scale(1.0)">
<path d="M410.5 426.2 L417.8 428.6 L421.8 447.6 L412.8 448.2 Z" fill="#d9dbdc" filter="url(#bl05)"/>
<path d="M412.8 455.2 L421.8 455.2 L421.8 469.5 L414.5 468.5 Z" fill="#f2f3f4" stroke="#dadcdd" stroke-width="0.6" filter="url(#bl05)"/>
<path d="M417.3 429.4 C428 426.3 445 427.5 457 435.6 C463 439.5 467 442.5 470 445.5 C462 448.2 454 449.6 447.6 450.5 L462.7 455.9 C456 463.5 445 469.5 432 471.5 L422.2 472.2 L422.5 454.3 L405 454.4 L405 448.9 Q414 448.7 422.5 447.4 Q421.5 437 417.3 429.4Z" fill="#0a86d2"/>
<circle cx="435.2" cy="443.9" r="2.3" fill="#fff"/>
</g>
<line x1="665" y1="365.5" x2="756.99" y2="431.14" stroke="#0a86d2" stroke-width="3.3"/>
<path d="M763.1 435.5L753.74 433.98L758.62 427.14Z" fill="#0a86d2"/>
<line x1="731.7" y1="511.7" x2="812.43" y2="450.34" stroke="#0a86d2" stroke-width="3.3"/>
<path d="M818.4 445.8L814.17 454.29L809.09 447.60Z" fill="#0a86d2"/>
<rect x="628.3" y="341.3" width="58.70" height="21.00" fill="#fbfbfb" filter="url(#sh)"/>
<rect x="631.3" y="343.5" width="53.20" height="15.80" fill="#3daf6a"/>
<text x="657.90" y="356.02" font-size="10.08" fill="#fff" text-anchor="middle" >人</text>
<rect x="688.5" y="512" width="59.80" height="21.50" fill="#fbfbfb" filter="url(#sh)"/>
<rect x="691.7" y="514.6" width="54.10" height="16.40" fill="#0a86d4"/>
<text x="718.75" y="527.42" font-size="10.08" fill="#fff" text-anchor="middle" >法</text>
<line x1="711" y1="393.3" x2="781.9" y2="393.3" stroke="#2584cc" stroke-width="1.0"/>
<path d="M710.5 393.3L715 391.3L715 395.3Z" fill="#2584cc"/>
<line x1="694" y1="405.2" x2="717.5" y2="405.2" stroke="#2584cc" stroke-width="1.0"/>
<path d="M718.0 405.2L713.5 403.2L713.5 407.2Z" fill="#2584cc"/>
<line x1="736.4" y1="414.4" x2="807.6" y2="414.4" stroke="#2584cc" stroke-width="1.0"/>
<path d="M735.9 414.4L740.4 412.4L740.4 416.4Z" fill="#2584cc"/>
<line x1="674" y1="480.4" x2="765.4" y2="480.4" stroke="#2584cc" stroke-width="1.0"/>
<path d="M765.9 480.4L761.4 478.4L761.4 482.4Z" fill="#2584cc"/>
<line x1="762.5" y1="497.5" x2="853" y2="497.5" stroke="#2584cc" stroke-width="1.0"/>
<path d="M762.0 497.5L766.5 495.5L766.5 499.5Z" fill="#2584cc"/>
<ellipse cx="656.3" cy="394.5" rx="43.9" ry="18.7" fill="#fbfcfb" filter="url(#sh3)"/>
<ellipse cx="656.3" cy="394.5" rx="41.3" ry="16.3" fill="url(#gell)"/>
<text x="656.8" y="394.8" font-size="8.5" fill="#eef8ee" text-anchor="middle" >没有认识到设置报</text>
<text x="657" y="405.1" font-size="8.5" fill="#eef8ee" text-anchor="middle" >警值得重要性</text>
<ellipse cx="704.5" cy="459.9" rx="43.300000000000004" ry="18.2" fill="#fbfcfb" filter="url(#sh3)"/>
<ellipse cx="704.5" cy="459.9" rx="40.7" ry="15.8" fill="url(#gell)"/>
<text x="704.2" y="459.9" font-size="8.5" fill="#eef8ee" text-anchor="middle" >相关制度，质控落</text>
<text x="704" y="470.4" font-size="8.5" fill="#eef8ee" text-anchor="middle" >实不到位</text>
<ellipse cx="812.1" cy="480.6" rx="44.2" ry="18.799999999999997" fill="#fbfcfb" filter="url(#sh3)"/>
<ellipse cx="812.1" cy="480.6" rx="41.6" ry="16.4" fill="url(#gell)"/>
<text x="814.3" y="483.2" font-size="8.5" fill="#eef8ee" text-anchor="middle" >没有进行定期考核</text>
<text x="715.8" y="390.6" font-size="8.4" fill="#1a1a1a" text-anchor="start" stroke="#1a1a1a" stroke-width="0.07" textLength="58.1" lengthAdjust="spacing">专业知识不扎实</text>
<text x="741.6" y="410.9" font-size="8.4" fill="#1a1a1a" text-anchor="start" stroke="#1a1a1a" stroke-width="0.07" textLength="33.2" lengthAdjust="spacing">没人提醒</text>
<text x="983.6" y="367.60" font-size="12.8" fill="#258cd3" text-anchor="middle" stroke="#258cd3" stroke-width="0.05" >护</text>
<text x="983.6" y="381.90" font-size="12.8" fill="#258cd3" text-anchor="middle" stroke="#258cd3" stroke-width="0.05" >士</text>
<text x="983.6" y="396.20" font-size="12.8" fill="#258cd3" text-anchor="middle" stroke="#258cd3" stroke-width="0.05" >调</text>
<text x="983.6" y="410.50" font-size="12.8" fill="#258cd3" text-anchor="middle" stroke="#258cd3" stroke-width="0.05" >节</text>
<text x="983.6" y="424.80" font-size="12.8" fill="#258cd3" text-anchor="middle" stroke="#258cd3" stroke-width="0.05" >报</text>
<text x="983.6" y="439.10" font-size="12.8" fill="#258cd3" text-anchor="middle" stroke="#258cd3" stroke-width="0.05" >警</text>
<text x="983.6" y="453.40" font-size="12.8" fill="#258cd3" text-anchor="middle" stroke="#258cd3" stroke-width="0.05" >值</text>
<text x="983.6" y="467.70" font-size="12.8" fill="#258cd3" text-anchor="middle" stroke="#258cd3" stroke-width="0.05" >意</text>
<text x="983.6" y="482.00" font-size="12.8" fill="#258cd3" text-anchor="middle" stroke="#258cd3" stroke-width="0.05" >识</text>
<text x="983.6" y="496.30" font-size="12.8" fill="#258cd3" text-anchor="middle" stroke="#258cd3" stroke-width="0.05" >较</text>
<text x="983.6" y="510.60" font-size="12.8" fill="#258cd3" text-anchor="middle" stroke="#258cd3" stroke-width="0.05" >低</text>
<rect x="447.7" y="260.9" width="18.4" height="18" rx="2" fill="#fff" filter="url(#sh)"/>
<rect x="448.7" y="261.9" width="16.4" height="16" rx="1.2" fill="#33c4a2"/>
<rect x="468.09999999999997" y="260.9" width="18.4" height="18" rx="2" fill="#fff" filter="url(#sh)"/>
<rect x="469.09999999999997" y="261.9" width="16.4" height="16" rx="1.2" fill="#2a9be0"/>
<rect x="488.5" y="260.9" width="18.4" height="18" rx="2" fill="#fff" filter="url(#sh)"/>
<rect x="489.5" y="261.9" width="16.4" height="16" rx="1.2" fill="#f78f0c"/>
<rect x="958.5" y="260.9" width="18.4" height="18" rx="2" fill="#fff" filter="url(#sh)"/>
<rect x="959.5" y="261.9" width="16.4" height="16" rx="1.2" fill="#33c4a2"/>
<rect x="978.9" y="260.9" width="18.4" height="18" rx="2" fill="#fff" filter="url(#sh)"/>
<rect x="979.9" y="261.9" width="16.4" height="16" rx="1.2" fill="#2a9be0"/>
<rect x="999.3" y="260.9" width="18.4" height="18" rx="2" fill="#fff" filter="url(#sh)"/>
<rect x="1000.3" y="261.9" width="16.4" height="16" rx="1.2" fill="#f78f0c"/>
<rect x="448.0" y="549.0" width="18.4" height="18" rx="2" fill="#fff" filter="url(#sh)"/>
<rect x="449.0" y="550.0" width="16.4" height="16" rx="1.2" fill="#33c4a2"/>
<rect x="468.4" y="549.0" width="18.4" height="18" rx="2" fill="#fff" filter="url(#sh)"/>
<rect x="469.4" y="550.0" width="16.4" height="16" rx="1.2" fill="#2a9be0"/>
<rect x="488.8" y="549.0" width="18.4" height="18" rx="2" fill="#fff" filter="url(#sh)"/>
<rect x="489.8" y="550.0" width="16.4" height="16" rx="1.2" fill="#f78f0c"/>
<rect x="959.0" y="549.0" width="18.4" height="18" rx="2" fill="#fff" filter="url(#sh)"/>
<rect x="960.0" y="550.0" width="16.4" height="16" rx="1.2" fill="#33c4a2"/>
<rect x="979.4" y="549.0" width="18.4" height="18" rx="2" fill="#fff" filter="url(#sh)"/>
<rect x="980.4" y="550.0" width="16.4" height="16" rx="1.2" fill="#2a9be0"/>
<rect x="999.8" y="549.0" width="18.4" height="18" rx="2" fill="#fff" filter="url(#sh)"/>
<rect x="1000.8" y="550.0" width="16.4" height="16" rx="1.2" fill="#f78f0c"/>
</svg></body></html>
